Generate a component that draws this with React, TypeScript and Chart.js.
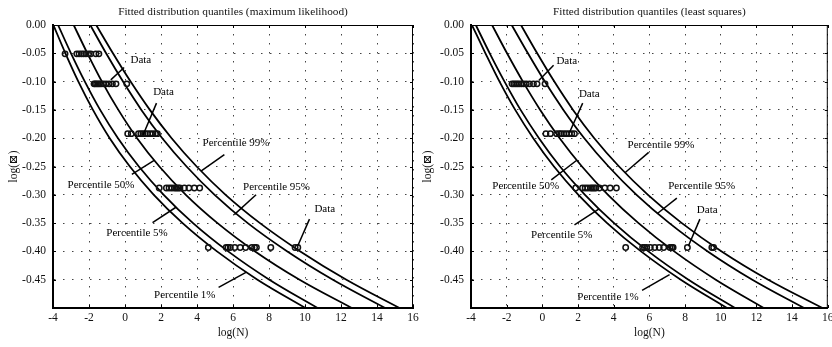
import React, { useEffect, useRef } from "react";
import { Chart, registerables } from "chart.js";

Chart.register(...registerables);

const SERIF = '"Liberation Serif", "Times New Roman", "DejaVu Serif", serif';

// y levels (log strain) at which the quantile curves are read
const yLevels = [0, -0.05, -0.1, -0.15, -0.2, -0.25, -0.3, -0.35, -0.4, -0.45, -0.5];

// Maximum likelihood: log(N) of each quantile curve at yLevels
const mlP1 = [-3.98, -3.31, -2.59, -1.78, -0.85, 0.27, 1.6, 3.2, 5.11, 7.36, 10.02];
const mlP5 = [-3.72, -3.0, -2.23, -1.38, -0.39, 0.77, 2.15, 3.78, 5.73, 8.02, 10.7];
const mlP50 = [-2.85, -2.09, -1.28, -0.37, 0.67, 1.91, 3.38, 5.14, 7.23, 9.7, 12.6];
const mlP95 = [-1.93, -1.05, -0.11, 0.91, 2.07, 3.42, 4.98, 6.82, 9.02, 11.55, 14.45];
const mlP99 = [-1.6, -0.67, 0.31, 1.38, 2.59, 3.98, 5.59, 7.5, 9.74, 12.3, 15.25];

// Least squares: log(N) of each quantile curve at yLevels
const lsP1 = [-3.95, -3.19, -2.4, -1.52, -0.51, 0.65, 2.02, 3.63, 5.53, 7.76, 10.35];
const lsP5 = [-3.73, -2.95, -2.12, -1.22, -0.19, 0.99, 2.39, 4.02, 5.94, 8.19, 10.8];
const lsP50 = [-2.82, -1.98, -1.09, -0.12, 0.97, 2.22, 3.68, 5.39, 7.39, 9.72, 12.41];
const lsP95 = [-1.72, -0.81, 0.14, 1.18, 2.35, 3.71, 5.28, 7.12, 9.27, 11.77, 14.67];
const lsP99 = [-1.2, -0.29, 0.67, 1.72, 2.91, 4.3, 5.92, 7.82, 10.05, 12.66, 15.7];

// Data levels and log(N) of test data
const mlLevels = [-0.051, -0.104, -0.192, -0.288, -0.393];
const mlRow1 = [-3.33, -2.68, -2.55, -2.42, -2.3, -2.17, -2.02, -1.9, -1.62, -1.45];
const mlRow2 = [-1.72, -1.66, -1.58, -1.5, -1.42, -1.33, -1.2, -1.05, -0.88, -0.7, -0.5, 0.1];
const mlRow3 = [0.15, 0.35, 0.75, 0.88, 1.0, 1.12, 1.25, 1.4, 1.55, 1.7, 1.8];
const mlRow4 = [1.9, 2.3, 2.45, 2.6, 2.75, 2.85, 2.95, 3.05, 3.3, 3.55, 3.85, 4.15];
const mlRow5 = [4.63, 5.62, 5.72, 5.85, 6.1, 6.4, 6.7, 7.05, 7.2, 7.3, 8.1, 9.45, 9.6];

const lsLevels = [-0.104, -0.192, -0.288, -0.393];
const lsRow1 = [-1.7, -1.6, -1.5, -1.4, -1.3, -1.18, -1.05, -0.9, -0.72, -0.5, -0.3, 0.15];
const lsRow2 = [0.2, 0.45, 0.8, 0.95, 1.05, 1.2, 1.35, 1.5, 1.65, 1.8];
const lsRow3 = [1.87, 2.25, 2.4, 2.55, 2.7, 2.8, 2.9, 3.0, 3.2, 3.5, 3.8, 4.15];
const lsRow4 = [4.67, 5.62, 5.72, 5.85, 6.05, 6.3, 6.55, 6.8, 7.15, 7.25, 7.33, 8.13, 9.5, 9.6];

// Annotation labels (text, label position, arrow start, arrow end) in data units
const mlNotes = [
  { text: "Data", x: 0.88, y: -0.062, from: [-0.05, -0.075], to: [-0.79, -0.097] },
  { text: "Data", x: 2.14, y: -0.1185, from: [1.75, -0.138], to: [1.01, -0.194] },
  { text: "Percentile 99%", x: 6.17, y: -0.2095, from: [5.52, -0.229], to: [4.22, -0.258] },
  { text: "Percentile 50%", x: -1.33, y: -0.283, from: [0.38, -0.264], to: [1.62, -0.239] },
  { text: "Percentile 95%", x: 8.42, y: -0.286, from: [7.28, -0.3], to: [6.07, -0.335] },
  { text: "Percentile 5%", x: 0.67, y: -0.3685, from: [1.53, -0.349], to: [2.83, -0.322] },
  { text: "Data", x: 11.1, y: -0.3245, from: [10.25, -0.343], to: [9.6, -0.39] },
  { text: "Percentile 1%", x: 3.32, y: -0.478, from: [5.2, -0.4636], to: [6.72, -0.437] },
];
const lsNotes = [
  { text: "Data", x: 1.37, y: -0.063, from: [0.63, -0.071], to: [-0.2, -0.098] },
  { text: "Data", x: 2.63, y: -0.122, from: [2.26, -0.138], to: [1.52, -0.19] },
  { text: "Percentile 99%", x: 6.65, y: -0.212, from: [5.96, -0.225], to: [4.63, -0.261] },
  { text: "Percentile 50%", x: -0.93, y: -0.285, from: [0.5, -0.2735], to: [1.93, -0.239] },
  { text: "Percentile 95%", x: 8.93, y: -0.285, from: [7.54, -0.306], to: [6.43, -0.3335] },
  { text: "Percentile 5%", x: 1.09, y: -0.3706, from: [1.8, -0.353], to: [3.18, -0.325] },
  { text: "Data", x: 9.24, y: -0.3276, from: [8.83, -0.343], to: [8.18, -0.391] },
  { text: "Percentile 1%", x: 3.68, y: -0.4805, from: [5.59, -0.469], to: [7.13, -0.441] },
];

const xTicks = [-4, -2, 0, 2, 4, 6, 8, 10, 12, 14, 16];

type Note = { text: string; x: number; y: number; from: number[]; to: number[] };

function curve(xs: number[]) {
  return {
    data: xs.map((x, i) => ({ x, y: yLevels[i] })),
    showLine: true,
    borderColor: "#000",
    borderWidth: 1.8,
    pointRadius: 0,
    pointHoverRadius: 0,
    cubicInterpolationMode: "monotone",
    fill: false,
    order: 2,
  };
}

function Panel(props: {
  title: string;
  curves: number[][];
  rows: number[][];
  levels: number[];
  notes: Note[];
  left: number;
  width: number;
  yWidth: number;
  padRight: number;
  yTitlePad: number;
}) {
  const ref = useRef<HTMLCanvasElement>(null);
  useEffect(() => {
    const pts = props.rows.flatMap((xs, i) => xs.map((x) => ({ x, y: props.levels[i] })));
    const overlay = {
      id: "overlay",
      afterDatasetsDraw(chart: any) {
        const { ctx, chartArea: a, scales } = chart;
        const sx = scales.x, sy = scales.y;
        ctx.save();
        // frame top/right
        ctx.strokeStyle = "#000";
        ctx.lineWidth = 1;
        ctx.beginPath();
        ctx.moveTo(a.left, a.top + 0.5);
        ctx.lineTo(a.right, a.top + 0.5);
        ctx.moveTo(a.right - 0.5, a.top);
        ctx.lineTo(a.right - 0.5, a.bottom);
        ctx.stroke();
        // inward tick marks
        ctx.beginPath();
        xTicks.forEach((t) => {
          const px = Math.round(sx.getPixelForValue(t)) + 0.5;
          ctx.moveTo(px, a.top);
          ctx.lineTo(px, a.top + 3);
          ctx.moveTo(px, a.bottom);
          ctx.lineTo(px, a.bottom - 3);
        });
        for (let k = 0; k <= 10; k++) {
          const py = Math.round(sy.getPixelForValue(-0.05 * k)) + 0.5;
          ctx.moveTo(a.left, py);
          ctx.lineTo(a.left + 3, py);
          ctx.moveTo(a.right, py);
          ctx.lineTo(a.right - 3, py);
        }
        ctx.stroke();
        // annotations
        ctx.lineWidth = 1.5;
        ctx.strokeStyle = "#000";
        ctx.fillStyle = "#000";
        ctx.font = `11px ${SERIF}`;
        ctx.textAlign = "center";
        ctx.textBaseline = "middle";
        props.notes.forEach((n) => {
          ctx.beginPath();
          ctx.moveTo(sx.getPixelForValue(n.from[0]), sy.getPixelForValue(n.from[1]));
          ctx.lineTo(sx.getPixelForValue(n.to[0]), sy.getPixelForValue(n.to[1]));
          ctx.stroke();
          ctx.fillText(n.text, sx.getPixelForValue(n.x), sy.getPixelForValue(n.y));
        });
        // title
        ctx.font = `11.3px ${SERIF}`;
        ctx.fillStyle = "#111";
        ctx.fillText(props.title, (a.left + a.right) / 2, 12);
        ctx.restore();
      },
    };
    const chart = new Chart(ref.current as HTMLCanvasElement, {
      type: "scatter",
      data: {
        datasets: [
          ...props.curves.map(curve),
          {
            data: pts,
            showLine: false,
            pointRadius: 2.7,
            pointHoverRadius: 2.7,
            pointBorderWidth: 1.5,
            pointBorderColor: "#111",
            pointBackgroundColor: "rgba(0,0,0,0)",
            order: 1,
          },
        ] as any,
      },
      options: {
        animation: false,
        responsive: false,
        maintainAspectRatio: false,
        events: [],
        layout: { padding: { top: 25, right: props.padRight, left: 0, bottom: 0 } },
        plugins: { legend: { display: false }, tooltip: { enabled: false }, title: { display: false } },
        scales: {
          x: {
            type: "linear",
            min: -4,
            max: 16,
            ticks: {
              stepSize: 2,
              padding: 3,
              color: "#111",
              autoSkip: false,
              maxRotation: 0,
              font: { family: SERIF, size: 11.5 },
              callback: (v: any) => String(Math.round(Number(v))),
            },
            grid: { color: "#444", lineWidth: 1, drawTicks: false },
            border: { display: true, color: "#000", width: 2, dash: [1.5, 7.5] },
            title: {
              display: true,
              text: "log(N)",
              color: "#111",
              font: { family: SERIF, size: 11.5 },
              padding: { top: 0, bottom: 7 },
            },
            afterFit: (s: any) => {
              s.height = 39;
              s.paddingLeft = 0;
              s.paddingRight = 0;
            },
          },
          y: {
            type: "linear",
            min: -0.5,
            max: 0,
            ticks: {
              stepSize: 0.05,
              padding: 7,
              color: "#111",
              autoSkip: false,
              font: { family: SERIF, size: 11.5 },
              callback: (v: any) => (Number(v) < -0.49 ? "" : Math.abs(Number(v)) < 1e-9 ? "0.00" : Number(v).toFixed(2)),
            },
            grid: { color: "#444", lineWidth: 1, drawTicks: false },
            border: { display: true, color: "#000", width: 2, dash: [1.5, 7.5] },
            title: {
              display: true,
              text: "log(⊠)",
              color: "#111",
              font: { family: SERIF, size: 11.5 },
              padding: { top: props.yTitlePad, bottom: 0 },
            },
            afterFit: (s: any) => {
              s.width = props.yWidth;
              s.paddingTop = 0;
              s.paddingBottom = 0;
            },
          },
        },
      } as any,
      plugins: [overlay],
    });
    return () => chart.destroy();
  }, []);
  return (
    <canvas
      ref={ref}
      width={props.width}
      height={347}
      style={{ position: "absolute", left: props.left, top: 0, width: props.width, height: 347 }}
    />
  );
}

export default function App() {
  return (
    <div
      style={{
        position: "absolute",
        left: 0,
        top: 0,
        width: 832,
        height: 347,
        overflow: "hidden",
        background: "#fff",
      }}
    >
      <Panel
        title="Fitted distribution quantiles (maximum likelihood)"
        curves={[mlP1, mlP5, mlP50, mlP95, mlP99]}
        rows={[mlRow1, mlRow2, mlRow3, mlRow4, mlRow5]}
        levels={mlLevels}
        notes={mlNotes}
        left={0}
        width={424}
        yWidth={53}
        padRight={11}
        yTitlePad={7}
      />
      <Panel
        title="Fitted distribution quantiles (least squares)"
        curves={[lsP1, lsP5, lsP50, lsP95, lsP99]}
        rows={[lsRow1, lsRow2, lsRow3, lsRow4]}
        levels={lsLevels}
        notes={lsNotes}
        left={412}
        width={420}
        yWidth={59}
        padRight={1}
        yTitlePad={9}
      />
    </div>
  );
}
